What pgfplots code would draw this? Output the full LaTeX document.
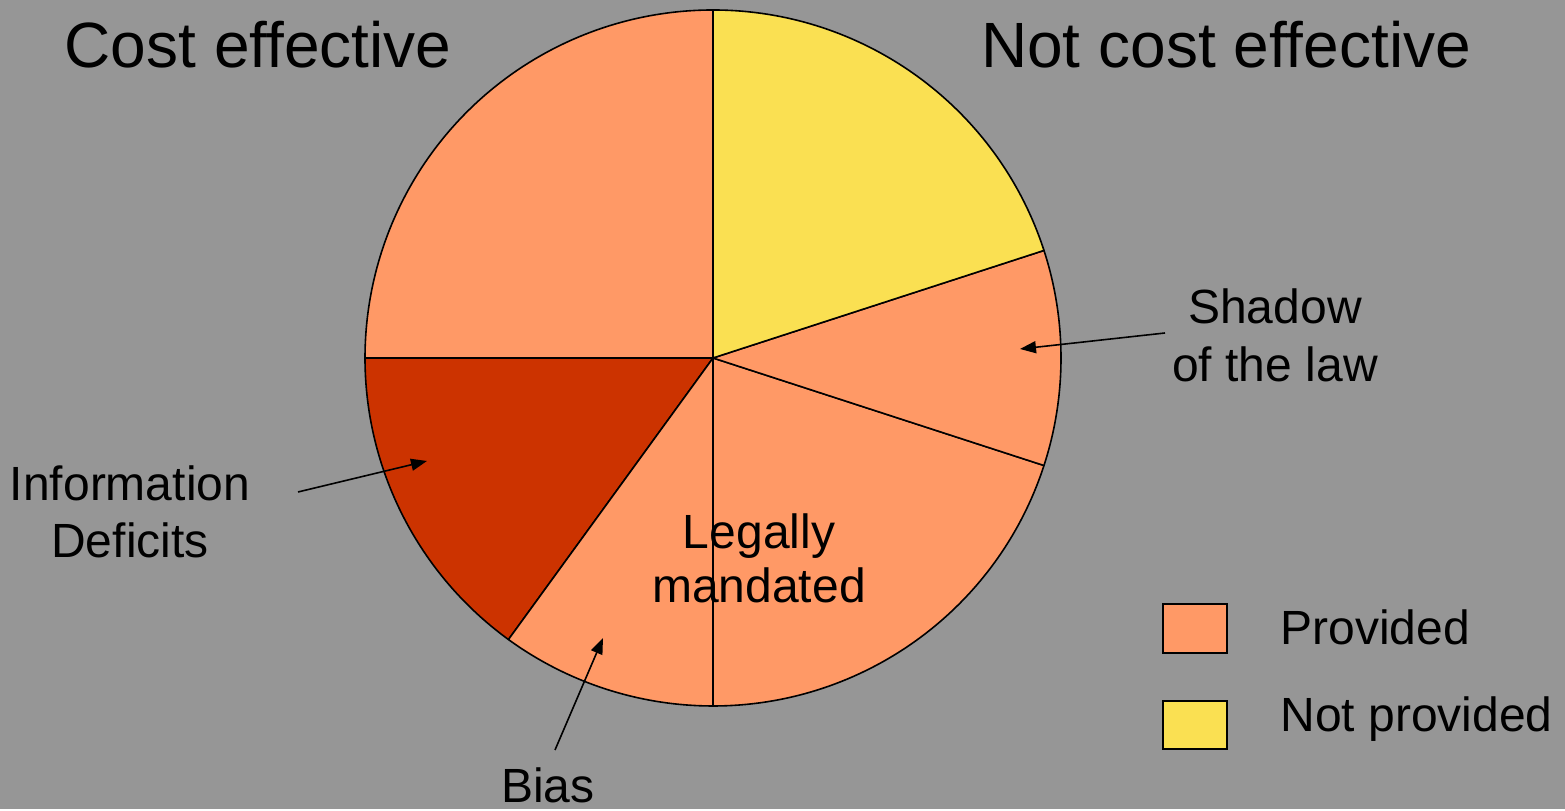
\documentclass[border=0pt]{standalone}
\usepackage{pgfplots}
\pgfplotsset{compat=1.18}
\usetikzlibrary{arrows.meta}
\usepackage{fontspec}
\setmainfont{Liberation Sans}

\definecolor{bg}{HTML}{969696}
\definecolor{provided}{HTML}{FF9966}
\definecolor{notprov}{HTML}{FAE052}
\definecolor{deficit}{HTML}{CC3300}

% start angle, share in percent, colour
\newcommand{\slice}[3]{%
  \filldraw[fill=#3, draw=black, line width=0.8pt, line join=round]
    (axis cs:713,451) -- ++(#1:174pt)
    arc[start angle=#1, delta angle=3.6*#2, radius=174pt] -- cycle;}

\newcommand{\titlefont}{\fontsize{32}{38}\selectfont}
\newcommand{\labfont}{\fontsize{24}{29}\selectfont}
\newcommand{\legfont}{\fontsize{24}{29}\selectfont}

\begin{document}
\begin{tikzpicture}
\begin{axis}[
    scale only axis,
    width=782.5pt, height=404.5pt,
    xmin=0, xmax=1565, ymin=0, ymax=809,
    hide axis, clip=false,
]
\fill[bg] (axis cs:0,0) rectangle (axis cs:1565,809);

% pie slices, counter-clockwise from the top
\slice{90}{25}{provided}   % cost effective, provided
\slice{180}{15}{deficit}   % information deficits
\slice{234}{10}{provided}  % bias
\slice{270}{20}{provided}  % legally mandated
\slice{342}{10}{provided}  % shadow of the law
\slice{378}{20}{notprov}   % not provided

% titles
\node[anchor=base, font=\titlefont] at (axis cs:258,741) {Cost effective};
\node[anchor=base, font=\titlefont] at (axis cs:1226,741) {Not cost effective};

% labels
\node[anchor=base, font=\labfont] at (axis cs:1275,485) {Shadow};
\node[anchor=base, font=\labfont] at (axis cs:1275,427) {of the law};
\node[anchor=base, font=\labfont] at (axis cs:130,308) {Information};
\node[anchor=base, font=\labfont] at (axis cs:130,251) {Deficits};
\node[anchor=base, font=\labfont] at (axis cs:759,260) {Legally};
\node[anchor=base, font=\labfont] at (axis cs:759,206) {mandated};
\node[anchor=base, font=\labfont] at (axis cs:548,6) {Bias};

% arrows
\draw[line width=0.8pt, -{Triangle[length=8pt, width=6pt]}]
  (axis cs:1165,476) -- (axis cs:1020,460);
\draw[line width=0.8pt, -{Triangle[length=8pt, width=6pt]}]
  (axis cs:298,317) -- (axis cs:427,348);
\draw[line width=0.8pt, -{Triangle[length=8pt, width=6pt]}]
  (axis cs:555,59) -- (axis cs:603,171);

% legend
\filldraw[fill=provided, draw=black, line width=0.8pt]
  (axis cs:1163,156) rectangle (axis cs:1227,205);
\filldraw[fill=notprov, draw=black, line width=0.8pt]
  (axis cs:1163,60) rectangle (axis cs:1227,108);
\node[anchor=base west, font=\legfont, inner sep=0pt] at (axis cs:1280,164) {Provided};
\node[anchor=base west, font=\legfont, inner sep=0pt] at (axis cs:1280,77) {Not provided};
\end{axis}
\end{tikzpicture}
\end{document}
